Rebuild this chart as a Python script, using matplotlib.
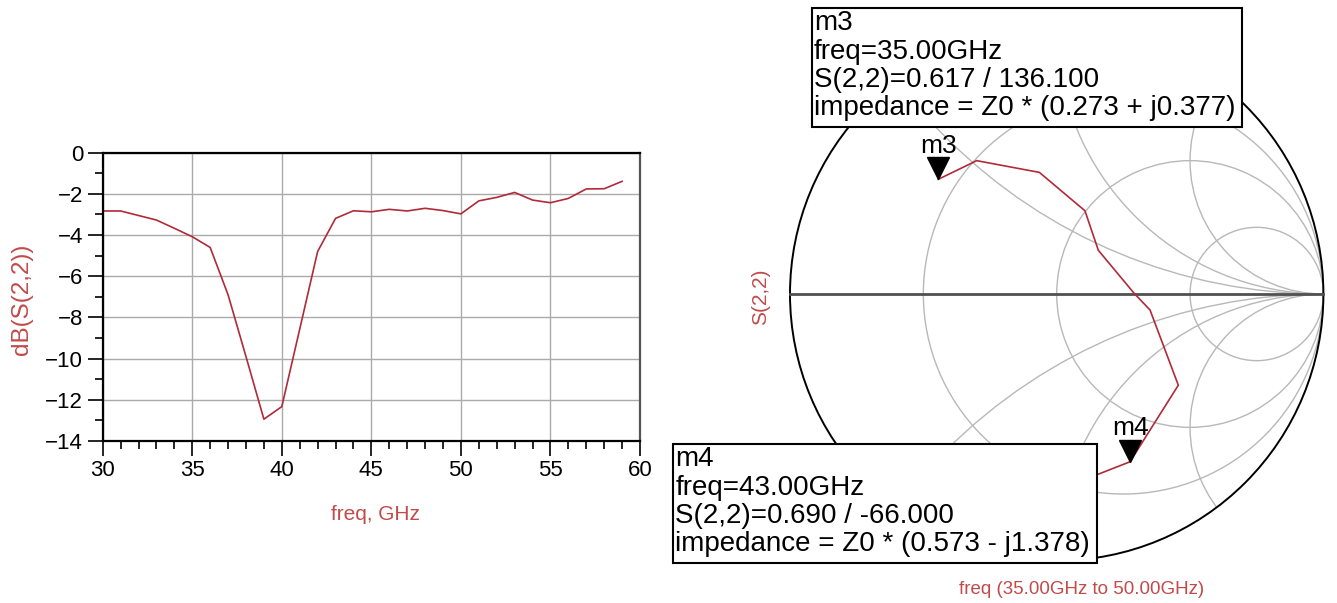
import numpy as np
import matplotlib
matplotlib.use("Agg")
import matplotlib.pyplot as plt
from matplotlib.patches import Circle, Rectangle
from matplotlib.ticker import MultipleLocator
import matplotlib.transforms as mtransforms

plt.rcParams['font.family'] = ['Liberation Sans', 'DejaVu Sans']

# dB(S(2,2)) against frequency
freq = [30, 31, 32, 33, 34, 35, 36, 37, 38, 39, 40, 41, 42, 43, 44,
        45, 46, 47, 48, 49, 50, 51, 52, 53, 54, 55, 56, 57, 58, 59]
s22_db = [-2.83, -2.83, -3.05, -3.27, -3.67, -4.08, -4.6, -6.9, -9.9, -12.94,
          -12.33, -8.57, -4.8, -3.19, -2.82, -2.87, -2.75, -2.83, -2.70, -2.81,
          -2.97, -2.34, -2.17, -1.93, -2.30, -2.43, -2.22, -1.76, -1.75, -1.39]

# S(2,2) on the Smith chart (reflection coefficient, real / imag)
smith_freq = [35, 36, 37, 38, 39, 40, 41, 42, 43, 44]
smith_re = [-0.444, -0.300, -0.065, 0.106, 0.156, 0.29, 0.350, 0.456, 0.275, 0.03]
smith_im = [0.430, 0.500, 0.456, 0.312, 0.164, 0.003, -0.060, -0.342, -0.629, -0.725]

# Smith grid values
r_circles = [1 / 3, 1, 3]
x_arcs = [0.5, 1, 2, -0.5, -1, -2]

marker_names = ['m3', 'm4']
marker_freq = [35, 43]
marker_lines = [
    ['m3', 'freq=35.00GHz', 'S(2,2)=0.617 / 136.100',
     'impedance = Z0 * (0.273 + j0.377)'],
    ['m4', 'freq=43.00GHz', 'S(2,2)=0.690 / -66.000',
     'impedance = Z0 * (0.573 - j1.378)'],
]

RED_TXT = '#c24a4a'
RED_LINE = '#b02a3a'

W, H = 1337, 603
fig = plt.figure(figsize=(W / 100, H / 100), dpi=100)


def fx(px):
    return px / W


def fy(py):
    return 1 - py / H


# ---- rectangular plot ----
L, Rt, T, B = 102.7, 640, 152.7, 441
ax = fig.add_axes([fx(L), fy(B), (Rt - L) / W, (B - T) / H])
ax.plot(freq, s22_db, color=RED_LINE, lw=1.2)
ax.set_xlim(30, 60)
ax.set_ylim(-14, 0)
ax.xaxis.set_major_locator(MultipleLocator(5))
ax.xaxis.set_minor_locator(MultipleLocator(1))
ax.yaxis.set_major_locator(MultipleLocator(2))
ax.yaxis.set_minor_locator(MultipleLocator(1))
ax.grid(True, which='major', color='#aaaaaa', lw=1)
ax.tick_params(which='major', direction='out', length=11, width=1.2,
               labelsize=16, pad=3)
ax.tick_params(which='minor', direction='out', length=5.5, width=1.2)
for s in ax.spines.values():
    s.set_linewidth(1.6)
    s.set_color('black')
ax.spines['right'].set_color('#555555')
fig.text(fx(21.7), fy(299), 'dB(S(2,2))', rotation=90, ha='center',
         va='center', color=RED_TXT, fontsize=17.5)
fig.text(fx(375), fy(515), 'freq, GHz', ha='center', va='center',
         color=RED_TXT, fontsize=15)

# ---- Smith chart ----
cx, cy, R = 1056.7, 294, 266.7
ax2 = fig.add_axes([fx(cx - 1.2 * R), fy(cy + 1.15 * R), 2.25 * R / W, 2.25 * R / H])
ax2.set_xlim(-1.2, 1.05)
ax2.set_ylim(-1.15, 1.1)
ax2.axis('off')

clip = Circle((0, 0), 1, transform=ax2.transData)
for r in r_circles:
    c = Circle((r / (1 + r), 0), 1 / (1 + r), fill=False, ec='#b8b8b8', lw=1)
    ax2.add_patch(c)
    c.set_clip_path(clip)
for x in x_arcs:
    c = Circle((1, 1 / x), 1 / abs(x), fill=False, ec='#b8b8b8', lw=1)
    ax2.add_patch(c)
    c.set_clip_path(clip)
ax2.plot([-1, 1], [0, 0], color='#505050', lw=2)
ax2.add_patch(Circle((0, 0), 1, fill=False, ec='black', lw=1.4))

ax2.plot(smith_re, smith_im, color=RED_LINE, lw=1.2, zorder=3)

tri = mtransforms.offset_copy(ax2.transData, fig=fig, y=8, units='points')
for name, f in zip(marker_names, marker_freq):
    i = smith_freq.index(f)
    ax2.plot(smith_re[i], smith_im[i], marker='v', ms=16, color='black',
             transform=tri, zorder=4)
    ax2.annotate(name, (smith_re[i], smith_im[i]), xytext=(0, 24),
                 textcoords='offset points', ha='center', va='center',
                 fontsize=19, zorder=4)

fig.text(fx(761), fy(297), 'S(2,2)', rotation=90, ha='center', va='center',
         color=RED_TXT, fontsize=15)
fig.text(fx(1081.7), fy(590), 'freq (35.00GHz to 50.00GHz)', ha='center',
         va='center', color=RED_TXT, fontsize=13.5)

# marker readout boxes
boxes = [(812, 8, 1242, 127.3), (673.3, 444, 1096.7, 563.3)]
for (x0, y0, x1, y1), lines in zip(boxes, marker_lines):
    fig.add_artist(Rectangle((fx(x0), fy(y1)), (x1 - x0) / W, (y1 - y0) / H,
                             transform=fig.transFigure, fc='white',
                             ec='black', lw=1.5, zorder=5))
    for k, line in enumerate(lines):
        fig.text(fx(x0 + 2), fy(y0 + 22.5 + k * 28.3), line, ha='left',
                 va='baseline', fontsize=20, zorder=6)

fig.savefig('out.png', dpi=100, facecolor='white')
